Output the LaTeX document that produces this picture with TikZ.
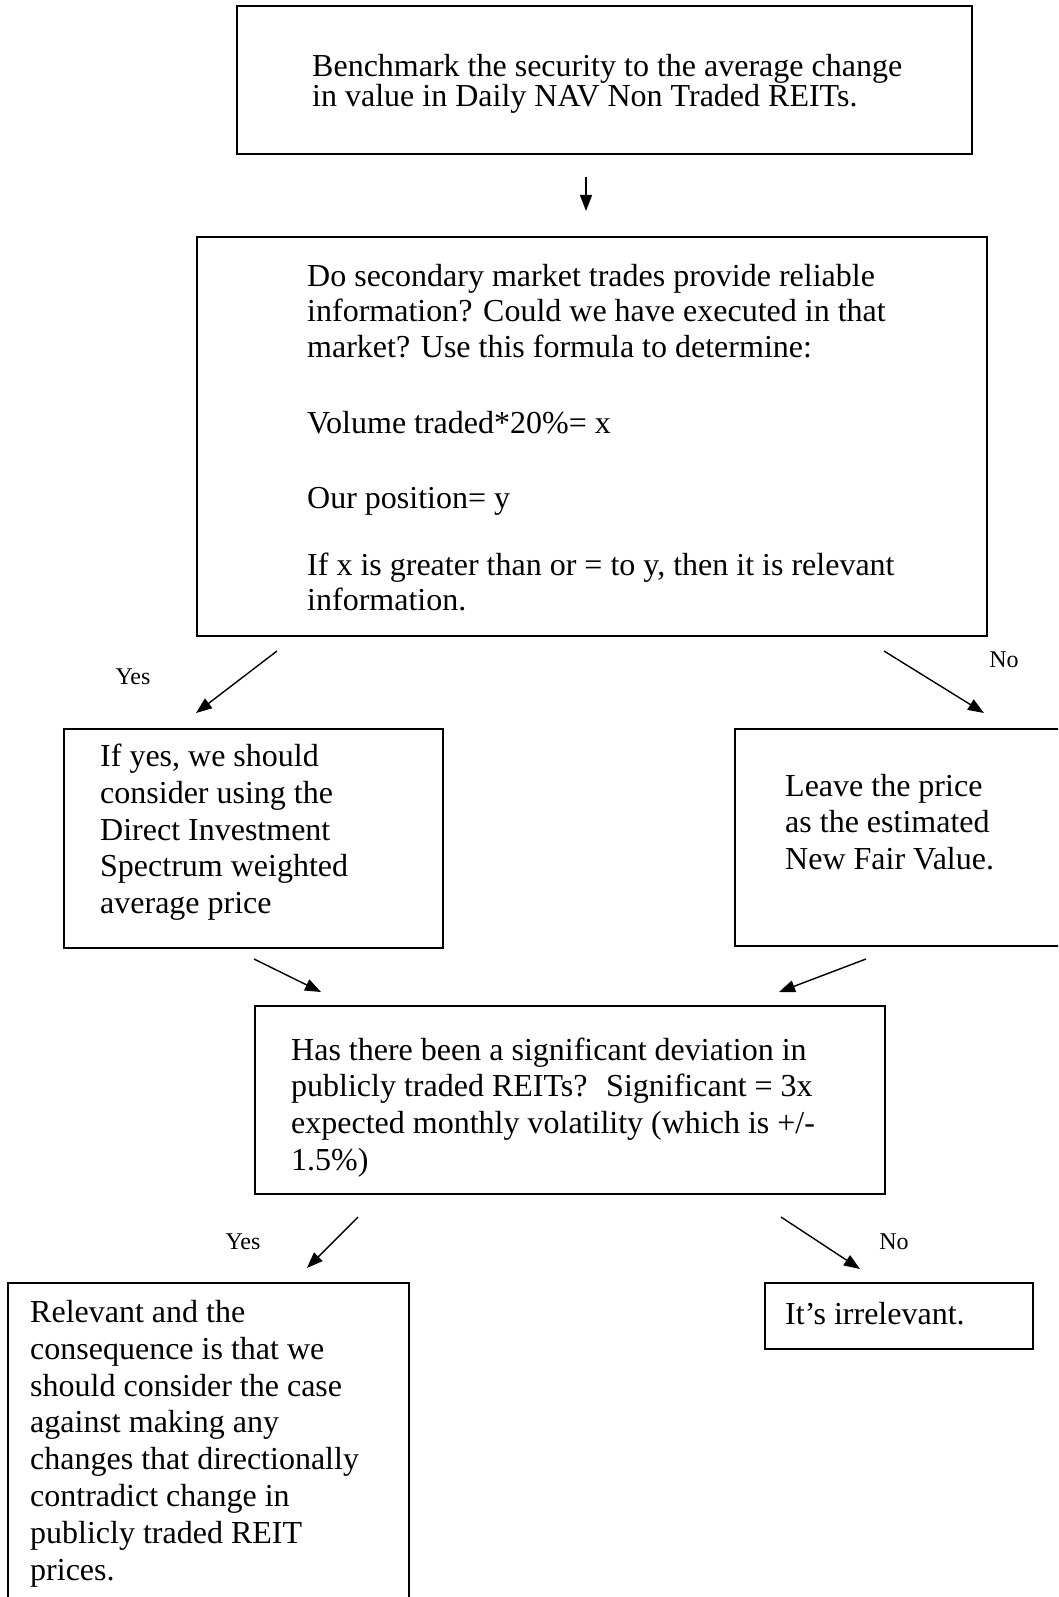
\documentclass[tikz,border=0pt]{standalone}
\usepackage{fontspec}
\setmainfont{Liberation Serif}
\usetikzlibrary{arrows.meta}
\newcommand{\boxtext}[3]{\parbox[t]{#1pt}{\fontsize{32}{#2}\selectfont\raggedright #3}}
\begin{document}
\begin{tikzpicture}[x=1pt,y=-1pt,
  box/.style={draw, line width=1.6pt, inner sep=0pt, anchor=north west},
  txt/.style={inner sep=0pt, anchor=base west},
  lab/.style={inner sep=0pt, font=\fontsize{24}{28}\selectfont},
  arr/.style={line width=1.4pt, -{Triangle[length=16pt,width=12pt]}}]
\useasboundingbox (0,0) rectangle (1058,1597);
\clip (0,0) rectangle (1058,1597);
\fill[white] (0,0) rectangle (1058,1597);

% boxes
\node[box, minimum width=735pt, minimum height=148pt] (b1) at (236,5) {};
\node[box, minimum width=790pt, minimum height=399pt] (b2) at (196,236) {};
\node[box, minimum width=379pt, minimum height=219pt] (b3) at (63,728) {};
\node[box, minimum width=400pt, minimum height=217pt] (b4) at (734,728) {};
\node[box, minimum width=630pt, minimum height=188pt] (b5) at (254,1005) {};
\node[box, minimum width=401pt, minimum height=400pt] (b6) at (7,1282) {};
\node[box, minimum width=268pt, minimum height=66pt] (b7) at (764,1282) {};

% texts
\node[txt] (t1) at (312,77) {\boxtext{650}{30}{Benchmark the security to the average change\\in value in Daily NAV Non Traded REITs.}};
\node[txt] (t2) at (307,286) {\boxtext{670}{35.5}{Do secondary market trades provide reliable\\information? Could we have executed in that\\market? Use this formula to determine:\\[40.5pt]Volume traded*20\%= x\\[39.5pt]Our position= y\\[31.5pt]If x is greater than or = to y, then it is relevant\\information.}};
\node[txt] (t3) at (100,766.5) {\boxtext{335}{36.8}{If yes, we should\\consider using the\\Direct Investment\\Spectrum weighted\\average price}};
\node[txt] (t4) at (785,796) {\boxtext{265}{36.5}{Leave the price\\as the estimated\\New Fair Value.}};
\node[txt] (t5) at (291,1060) {\boxtext{585}{36.7}{Has there been a significant deviation in\\publicly traded REITs?~ Significant = 3x\\expected monthly volatility (which is +/-\\1.5\%)}};
\node[txt] (t6) at (30,1322.5) {\boxtext{370}{36.8}{Relevant and the\\consequence is that we\\should consider the case\\against making any\\changes that directionally\\contradict change in\\publicly traded REIT\\prices.}};
\node[txt] (t7) at (785,1324) {\boxtext{240}{36.8}{It’s irrelevant.}};

% labels
\node[lab] (y1) at (133,677) {Yes};
\node[lab] (n1) at (1004,660) {No};
\node[lab] (y2) at (243,1242) {Yes};
\node[lab] (n2) at (894,1242) {No};

% arrow end points
\coordinate (a1s) at (586,177);  \coordinate (a1e) at (586,211);
\coordinate (a2s) at (277,651);  \coordinate (a2e) at (196,713);
\coordinate (a3s) at (884,651);  \coordinate (a3e) at (984,713);
\coordinate (a4s) at (254,959);  \coordinate (a4e) at (321,992);
\coordinate (a5s) at (866,959);  \coordinate (a5e) at (779,992);
\coordinate (a6s) at (358,1217); \coordinate (a6e) at (307,1268);
\coordinate (a7s) at (781,1217); \coordinate (a7e) at (860,1269);

\draw[arr] (a1s) -- (a1e);
\draw[arr] (a2s) -- (a2e);
\draw[arr] (a3s) -- (a3e);
\draw[arr] (a4s) -- (a4e);
\draw[arr] (a5s) -- (a5e);
\draw[arr] (a6s) -- (a6e);
\draw[arr] (a7s) -- (a7e);
\end{tikzpicture}
\end{document}
